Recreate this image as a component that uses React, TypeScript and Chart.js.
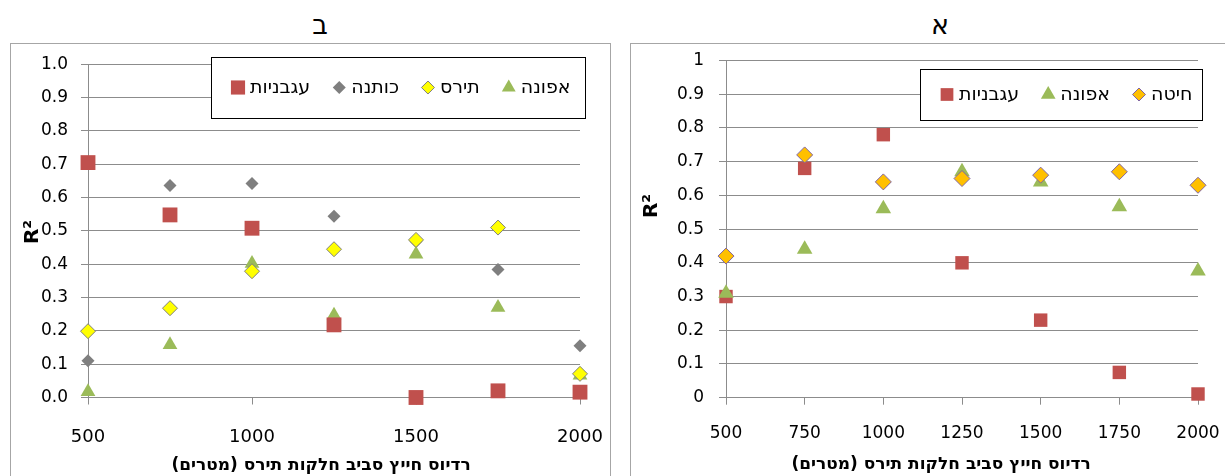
import React, { useEffect, useRef } from 'react';
import { Chart, registerables } from 'chart.js';
Chart.register(...registerables);

// ---------- data ----------
const radii = [500, 750, 1000, 1250, 1500, 1750, 2000];

// Chart ב
const tomatoB = [0.705, 0.548, 0.508, 0.218, 0.0, 0.02, 0.016];
const cottonB = [0.11, 0.636, 0.642, 0.544, 0.468, 0.384, 0.155];
const cornB = [0.199, 0.268, 0.379, 0.445, 0.473, 0.51, 0.071];
const peaB = [0.017, 0.158, 0.402, 0.247, 0.43, 0.27, 0.067];

// Chart א
const tomatoA = [0.30, 0.68, 0.78, 0.40, 0.23, 0.075, 0.011];
const peaA = [0.31, 0.44, 0.56, 0.67, 0.64, 0.566, 0.376];
const wheatA = [0.42, 0.72, 0.64, 0.65, 0.66, 0.67, 0.63];

const titleB = 'ב';
const titleA = 'א';
const xTitle = 'רדיוס חייץ סביב חלקות תירס (מטרים)';
const yTitle = 'R²';
const nameTomato = 'עגבניות';
const nameCotton = 'כותנה';
const nameCorn = 'תירס';
const namePea = 'אפונה';
const nameWheat = 'חיטה';

const xTicksB = [500, 2000, 500];
const xTicksA = [500, 2000, 250];

// ---------- styles ----------
const GRID = '#8c8c8c';
const FONT = '"DejaVu Sans", sans-serif';

type Style = 'rect' | 'rectRot' | 'triangle';
interface SeriesDef {
  label: string;
  values: number[];
  style: Style;
  r: number;
  bg: string;
  border: string;
  bw: number;
  order: number;
  legendR: number;
  legendIdx: number;
}

function drawMarker(ctx: CanvasRenderingContext2D, s: Style, x: number, y: number, r: number, bg: string, border: string, bw: number) {
  ctx.save();
  ctx.beginPath();
  if (s === 'rect') {
    const h = r * Math.SQRT1_2;
    ctx.rect(x - h, y - h, 2 * h, 2 * h);
  } else if (s === 'rectRot') {
    ctx.moveTo(x - r, y);
    ctx.lineTo(x, y - r);
    ctx.lineTo(x + r, y);
    ctx.lineTo(x, y + r);
    ctx.closePath();
  } else {
    const w = (r * Math.sqrt(3)) / 2;
    ctx.moveTo(x, y - r);
    ctx.lineTo(x + w, y + r / 2);
    ctx.lineTo(x - w, y + r / 2);
    ctx.closePath();
  }
  ctx.fillStyle = bg;
  ctx.fill();
  if (bw > 0) {
    ctx.strokeStyle = border;
    ctx.lineWidth = bw;
    ctx.stroke();
  }
  ctx.restore();
}

interface PanelDef {
  left: number;
  top: number;
  width: number;
  height: number;
  area: { l: number; r: number; t: number; b: number };
  xTicks: number[];
  yFmt: (v: number) => string;
  xFont: number;
  yFont: number;
  xPad: number;
  yPad: number;
  series: SeriesDef[];
  legend: { x: number; y: number; w: number; h: number; startX: number; gap: number; font: number };
  yTitlePos: { x: number; y: number };
  xTitlePos: { x: number; y: number };
}

const decorPlugin = {
  id: 'decor',
  afterDraw(chart: any, _args: any, opts: any) {
    const def: PanelDef = opts.def;
    const ctx: CanvasRenderingContext2D = chart.ctx;
    ctx.save();
    // legend box
    const L = def.legend;
    ctx.fillStyle = '#ffffff';
    ctx.fillRect(L.x, L.y, L.w, L.h);
    ctx.strokeStyle = '#000000';
    ctx.lineWidth = 1;
    ctx.strokeRect(L.x + 0.5, L.y + 0.5, L.w, L.h);
    ctx.font = `${L.font}px ${FONT}`;
    ctx.textBaseline = 'middle';
    ctx.fillStyle = '#000';
    let cx = L.x + L.startX;
    const cy = L.y + L.h / 2;
    const legendItems = [...def.series].sort((a, b) => a.legendIdx - b.legendIdx);
    for (const s of legendItems) {
      drawMarker(ctx, s.style, cx + 7, cy, s.legendR, s.bg, s.border, s.bw);
      ctx.direction = 'rtl';
      ctx.textAlign = 'left';
      const tw = ctx.measureText(s.label).width;
      ctx.textAlign = 'right';
      ctx.fillStyle = '#000';
      ctx.fillText(s.label, cx + 19 + tw, cy + 1);
      cx += 19 + tw + L.gap;
    }
    // y title
    ctx.direction = 'ltr';
    ctx.save();
    ctx.translate(def.yTitlePos.x, def.yTitlePos.y);
    ctx.rotate(-Math.PI / 2);
    ctx.font = `bold 20px ${FONT}`;
    ctx.textAlign = 'center';
    ctx.textBaseline = 'middle';
    ctx.fillStyle = '#000';
    ctx.fillText(yTitle, 0, 0);
    ctx.restore();
    // x title
    ctx.font = `bold 17px ${FONT}`;
    ctx.direction = 'rtl';
    ctx.textAlign = 'center';
    ctx.textBaseline = 'middle';
    ctx.fillStyle = '#000';
    ctx.fillText(xTitle, def.xTitlePos.x, def.xTitlePos.y);
    ctx.restore();
  },
};

function Panel({ def }: { def: PanelDef }) {
  const ref = useRef<HTMLCanvasElement>(null);
  useEffect(() => {
    const a = def.area;
    const chart = new Chart(ref.current!, {
      type: 'scatter',
      data: {
        datasets: def.series.map((s) => ({
          label: s.label,
          data: radii.map((x, i) => ({ x, y: s.values[i] })),
          pointStyle: s.style,
          pointRadius: s.r,
          pointHoverRadius: s.r,
          backgroundColor: s.bg,
          borderColor: s.border,
          pointBorderWidth: s.bw,
          borderWidth: s.bw,
          order: s.order,
          showLine: false,
          clip: false,
        })),
      },
      options: {
        animation: false,
        responsive: false,
        maintainAspectRatio: false,
        events: [],
        layout: { padding: { left: 0, top: a.t, right: def.width - a.r, bottom: 0 } },
        plugins: {
          legend: { display: false },
          tooltip: { enabled: false },
          title: { display: false },
          decor: { def },
        } as any,
        scales: {
          x: {
            type: 'linear',
            position: 'bottom',
            min: def.xTicks[0],
            max: def.xTicks[1],
            ticks: {
              stepSize: def.xTicks[2],
              autoSkip: false,
              maxRotation: 0,
              callback: (v: any) => String(v),
              color: '#000',
              padding: def.xPad,
              font: { family: FONT, size: def.xFont },
            },
            grid: { drawOnChartArea: false, drawTicks: true, tickLength: 7, color: GRID },
            border: { color: GRID, width: 1 },
            afterFit: (s: any) => {
              s.height = def.height - a.b;
              s.paddingLeft = 0;
              s.paddingRight = 0;
            },
          },
          y: {
            type: 'linear',
            min: 0,
            max: 1,
            ticks: {
              stepSize: 0.1,
              autoSkip: false,
              callback: (v: any) => def.yFmt(Number(v)),
              color: '#000',
              padding: def.yPad,
              font: { family: FONT, size: def.yFont },
            },
            grid: { drawOnChartArea: true, drawTicks: true, tickLength: 7, color: GRID },
            border: { color: GRID, width: 1 },
            afterFit: (s: any) => {
              s.width = a.l;
              s.paddingTop = 0;
              s.paddingBottom = 0;
            },
          },
        },
      } as any,
      plugins: [decorPlugin as any],
    });
    return () => chart.destroy();
  }, [def]);
  return (
    <canvas
      ref={ref}
      width={def.width}
      height={def.height}
      style={{ position: 'absolute', left: def.left, top: def.top, width: def.width, height: def.height }}
    />
  );
}

const panelB: PanelDef = {
  left: 11,
  top: 44,
  width: 599,
  height: 432,
  area: { l: 77, r: 569, t: 20.3, b: 353.5 },
  xTicks: xTicksB,
  yFmt: (v) => v.toFixed(1),
  xFont: 18,
  yFont: 17,
  xPad: 22,
  yPad: 13,
  series: [
    { label: nameTomato, values: tomatoB, style: 'rect', r: 10.5, bg: '#C0504D', border: '#C0504D', bw: 0, order: 0, legendR: 10, legendIdx: 0 },
    { label: nameCotton, values: cottonB, style: 'rectRot', r: 6.5, bg: '#7F7F7F', border: '#7F7F7F', bw: 0, order: 3, legendR: 6.5, legendIdx: 1 },
    { label: nameCorn, values: cornB, style: 'rectRot', r: 7.5, bg: '#FFFF00', border: '#7F7F7F', bw: 1, order: 1, legendR: 6.5, legendIdx: 2 },
    { label: namePea, values: peaB, style: 'triangle', r: 8.5, bg: '#9BBB59', border: '#9BBB59', bw: 0, order: 2, legendR: 8, legendIdx: 3 },
  ],
  legend: { x: 200, y: 13, w: 374, h: 61, startX: 20, gap: 22, font: 19 },
  yTitlePos: { x: 22, y: 188 },
  xTitlePos: { x: 310, y: 422 },
};

const panelA: PanelDef = {
  left: 631,
  top: 44,
  width: 594,
  height: 432,
  area: { l: 95, r: 567, t: 16.5, b: 353.7 },
  xTicks: xTicksA,
  yFmt: (v) => String(Number(v.toFixed(1))),
  xFont: 17,
  yFont: 17,
  xPad: 19,
  yPad: 15,
  series: [
    { label: nameWheat, values: wheatA, style: 'rectRot', r: 8, bg: '#FFC000', border: '#8064A2', bw: 1, order: 0, legendR: 6.5, legendIdx: 2 },
    { label: namePea, values: peaA, style: 'triangle', r: 9, bg: '#9BBB59', border: '#9BBB59', bw: 0, order: 1, legendR: 8.5, legendIdx: 1 },
    { label: nameTomato, values: tomatoA, style: 'rect', r: 9.5, bg: '#C0504D', border: '#C0504D', bw: 0, order: 2, legendR: 9, legendIdx: 0 },
  ],
  legend: { x: 289, y: 25, w: 282, h: 51, startX: 20, gap: 22, font: 19 },
  yTitlePos: { x: 21, y: 162 },
  xTitlePos: { x: 310, y: 421 },
};

export default function App() {
  return (
    <div
      style={{
        position: 'fixed',
        left: 0,
        top: 0,
        width: 1225,
        height: 476,
        overflow: 'hidden',
        background: '#fff',
        fontFamily: FONT,
      }}
    >
      <div
        style={{
          position: 'absolute',
          left: 10,
          top: 43,
          width: 599,
          height: 500,
          border: '1px solid #a6a6a6',
        }}
      />
      <div
        style={{
          position: 'absolute',
          left: 630,
          top: 43,
          width: 700,
          height: 500,
          border: '1px solid #a6a6a6',
        }}
      />
      <div
        style={{
          position: 'absolute',
          left: 220,
          width: 200,
          top: 8,
          textAlign: 'center',
          fontSize: 27,
          lineHeight: '34px',
          direction: 'rtl',
        }}
      >
        {titleB}
      </div>
      <div
        style={{
          position: 'absolute',
          left: 840,
          width: 200,
          top: 8,
          textAlign: 'center',
          fontSize: 27,
          lineHeight: '34px',
          direction: 'rtl',
        }}
      >
        {titleA}
      </div>
      <Panel def={panelB} />
      <Panel def={panelA} />
    </div>
  );
}
